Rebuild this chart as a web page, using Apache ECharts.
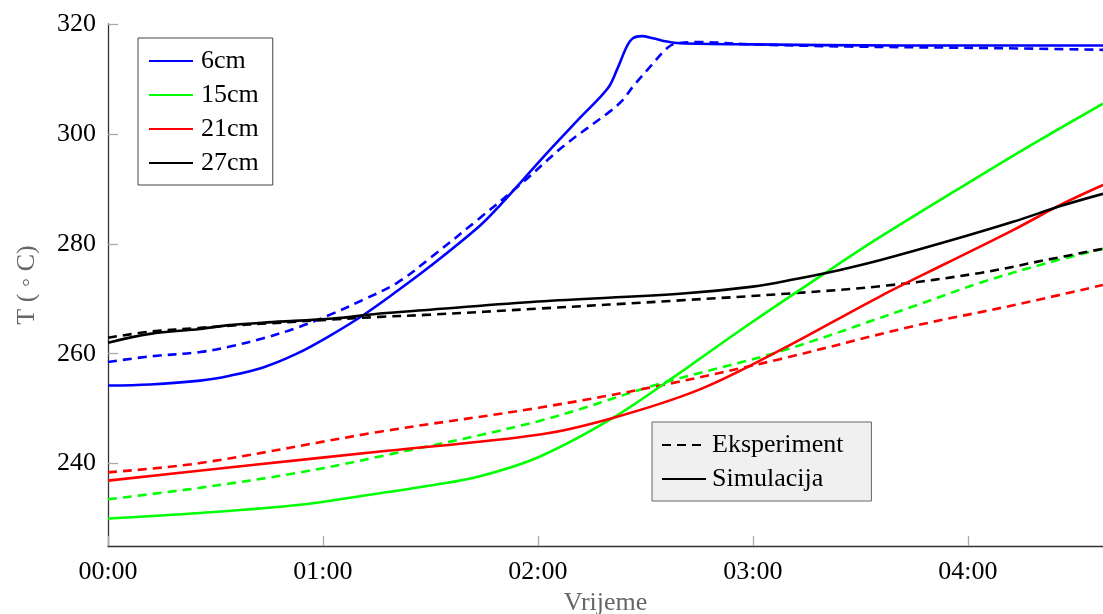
<!DOCTYPE html>
<html>
<head>
<meta charset="utf-8">
<script src="https://cdn.jsdelivr.net/npm/echarts@6/dist/echarts.min.js"></script>
<style>
html,body{margin:0;padding:0;background:#fff;}
#c{width:1103px;height:614px;}
</style>
</head>
<body>
<div id="c"></div>
<script>
// time in minutes since 00:00
const t6Sim = [0, 11.7, 25.7, 34.0, 43.3, 52.7, 62.0, 71.2, 80.7, 89.9, 103.8, 109.4, 122.5, 131.7, 139.5, 142.0, 144.8, 146.5, 149.0, 152.1, 156.0, 159.6, 179.2, 221.0, 277.7];
const v6Sim = [254.2, 254.4, 255.1, 256.0, 257.5, 260.0, 263.3, 267.0, 271.4, 275.9, 283.3, 287.0, 296.5, 302.9, 308.3, 311.6, 315.9, 317.4, 317.8, 317.4, 316.8, 316.5, 316.3, 316.1, 316.1];
const t6Exp = [0, 11.7, 25.7, 34.0, 43.3, 52.7, 62.0, 71.2, 80.7, 89.9, 103.8, 115.8, 127.0, 140.1, 143.7, 146.5, 152.1, 156.0, 158.8, 165.2, 179.2, 207.1, 248.9, 277.7];
const v6Exp = [258.5, 259.5, 260.3, 261.3, 262.8, 264.7, 267.1, 269.8, 272.9, 277.4, 284.7, 291.2, 297.7, 304.1, 306.2, 308.6, 312.8, 315.6, 316.5, 316.7, 316.3, 315.9, 315.6, 315.3];

const t15Sim = [0, 25.7, 53.6, 75.9, 89.9, 103.8, 120.6, 140.9, 159.6, 165.2, 179.2, 199.5, 215.4, 241.4, 260.1, 277.7];
const v15Sim = [230.0, 231.0, 232.5, 234.6, 236.0, 237.7, 241.3, 248.3, 256.5, 259.1, 265.5, 274.4, 281.2, 291.6, 298.9, 305.5];
const t15Exp = [0, 25.7, 53.6, 75.9, 120.6, 154.9, 187.5, 224.7, 243.4, 262.1, 277.7];
const v15Exp = [233.5, 235.6, 238.4, 241.3, 247.8, 254.7, 260.4, 268.6, 272.9, 276.5, 279.1];

const t21Sim = [0, 39.6, 75.9, 120.6, 140.9, 165.2, 187.5, 215.4, 234.1, 252.6, 266.5, 277.7];
const v21Sim = [236.9, 239.7, 242.2, 245.3, 248.3, 253.5, 260.6, 270.4, 276.5, 282.5, 287.3, 290.7];
const t21Exp = [0, 25.7, 75.9, 120.6, 154.9, 187.5, 224.7, 252.6, 277.7];
const v21Exp = [238.4, 240.1, 245.8, 250.2, 254.3, 259.0, 265.0, 268.8, 272.5];

const t27Sim = [0, 11.7, 25.7, 34.0, 44.4, 62.8, 75.9, 89.9, 120.0, 159.6, 180.0, 192.0, 204.0, 215.4, 234.1, 252.6, 266.5, 277.7];
const v27Sim = [262.0, 263.6, 264.5, 265.2, 265.7, 266.4, 267.3, 268.0, 269.5, 270.9, 272.2, 273.6, 275.2, 277.0, 280.4, 284.0, 287.0, 289.1];
const t27Exp = [0, 11.7, 25.7, 34.0, 44.4, 62.0, 75.9, 89.9, 120.0, 159.6, 191.2, 217.4, 243.4, 262.1, 277.7];
const v27Exp = [262.9, 264.0, 264.7, 265.1, 265.5, 266.2, 266.7, 267.1, 268.2, 269.7, 271.0, 272.4, 274.7, 277.1, 279.1];

const depthNames = ['6cm', '15cm', '21cm', '27cm'];
const depthColors = ['#0000ff', '#00ff00', '#ff0000', '#000000'];
const styleNames = ['Eksperiment', 'Simulacija'];
const xTickMinutes = [0, 60, 120, 180, 240];

const zip = (t, v) => t.map((x, i) => [x, v[i]]);
const simData = [zip(t6Sim, v6Sim), zip(t15Sim, v15Sim), zip(t21Sim, v21Sim), zip(t27Sim, v27Sim)];
const expData = [zip(t6Exp, v6Exp), zip(t15Exp, v15Exp), zip(t21Exp, v21Exp), zip(t27Exp, v27Exp)];

const FONT = 'Liberation Serif';
const FS = 26;
const DASH = [9, 6];
const LW = 2.6;

const series = [];
depthNames.forEach((n, i) => {
  series.push({
    name: n + ' exp', type: 'line', data: expData[i], symbol: 'none', showSymbol: false,
    smooth: 0.35, animation: false,
    lineStyle: { color: depthColors[i], width: LW, type: DASH }, itemStyle: { color: depthColors[i] }
  });
});
depthNames.forEach((n, i) => {
  series.push({
    name: n, type: 'line', data: simData[i], symbol: 'none', showSymbol: false,
    smooth: 0.35, animation: false,
    lineStyle: { color: depthColors[i], width: LW, type: 'solid' }, itemStyle: { color: depthColors[i] }
  });
});
series.push({
  name: styleNames[0], type: 'line', data: [], symbol: 'none', animation: false,
  lineStyle: { color: '#000', width: LW, type: DASH }, itemStyle: { color: '#000' }
});
series.push({
  name: styleNames[1], type: 'line', data: [], symbol: 'none', animation: false,
  lineStyle: { color: '#000', width: LW, type: 'solid' }, itemStyle: { color: '#000' }
});

const pad = n => (n < 10 ? '0' : '') + n;
const fmtTime = v => pad(Math.floor(v / 60)) + ':' + pad(Math.round(v % 60));

const chart = echarts.init(document.getElementById('c'), null, { renderer: 'canvas' });
chart.setOption({
  animation: false,
  backgroundColor: '#ffffff',
  grid: { left: 108, right: 0, top: 24, bottom: 68, containLabel: false, outerBoundsMode: 'none' },
  xAxis: {
    type: 'value', min: xTickMinutes[0], max: 277.7, interval: 60,
    name: 'Vrijeme', nameLocation: 'middle', nameGap: 44,
    nameTextStyle: { fontFamily: FONT, fontSize: FS, color: '#666' },
    axisLine: { show: true, lineStyle: { color: '#333', width: 1.3 } },
    axisTick: { show: true, inside: true, length: 10, lineStyle: { color: '#aaa', width: 1.3 } },
    axisLabel: { fontFamily: FONT, fontSize: FS, color: '#000', margin: 13, formatter: fmtTime, showMaxLabel: false },
    splitLine: { show: false }
  },
  yAxis: {
    type: 'value', min: 225, max: 320, splitNumber: 5,
    name: 'T ( ◦ C)', nameLocation: 'middle', nameGap: 68, nameRotate: 90,
    nameTextStyle: { fontFamily: FONT, fontSize: FS, color: '#666' },
    axisLine: { show: true, lineStyle: { color: '#333', width: 1.3 } },
    axisTick: { show: true, inside: true, length: 10, lineStyle: { color: '#aaa', width: 1.3 } },
    axisLabel: { fontFamily: FONT, fontSize: FS, color: '#000', margin: 12, showMinLabel: false },
    splitLine: { show: false }
  },
  legend: [
    {
      data: depthNames, orient: 'vertical', left: 138, top: 38,
      itemWidth: 44, itemHeight: 14, itemGap: 8,
      padding: [10, 14, 9, 10],
      borderColor: '#444', borderWidth: 1, backgroundColor: '#fff',
      itemStyle: { opacity: 0 },
      textStyle: { fontFamily: FONT, fontSize: FS, color: '#000', lineHeight: 24, padding: [0, 0, 0, 3] },
      selectedMode: false
    },
    {
      data: styleNames, orient: 'vertical', left: 652, top: 422,
      itemWidth: 44, itemHeight: 14, itemGap: 8,
      padding: [10, 28, 9, 9],
      borderColor: '#666', borderWidth: 1, backgroundColor: '#f0f0f0',
      itemStyle: { opacity: 0 },
      textStyle: { fontFamily: FONT, fontSize: FS, color: '#000', lineHeight: 24, padding: [0, 0, 0, 1] },
      selectedMode: false
    }
  ],
  series: series
});
</script>
</body>
</html>
